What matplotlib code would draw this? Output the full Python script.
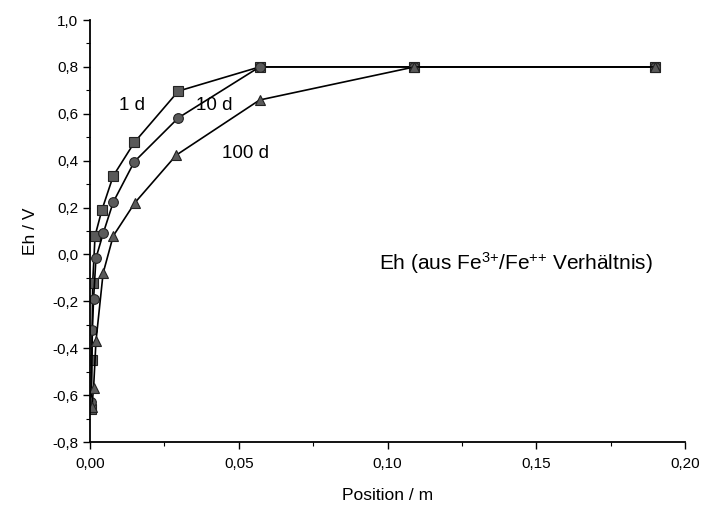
import numpy as np
import matplotlib
matplotlib.use("Agg")
import matplotlib.pyplot as plt
from matplotlib.ticker import MultipleLocator, FuncFormatter

plt.rcParams['font.family'] = ['Liberation Sans', 'DejaVu Sans']
plt.rcParams['mathtext.fontset'] = 'custom'
plt.rcParams['mathtext.rm'] = 'Liberation Sans'
plt.rcParams['mathtext.it'] = 'Liberation Sans:italic'

# data (position in m, Eh in V)
x_1d = [0.0003, 0.0006, 0.0009, 0.0017, 0.0040, 0.0078, 0.0149, 0.0297, 0.0570, 0.1090, 0.1900]
eh_1d = [-0.66, -0.45, -0.12, 0.08, 0.19, 0.335, 0.478, 0.697, 0.80, 0.80, 0.80]

x_10d = [0.0004, 0.0008, 0.0012, 0.0020, 0.0045, 0.0078, 0.0149, 0.0297, 0.0570, 0.1090, 0.1900]
eh_10d = [-0.63, -0.32, -0.19, -0.015, 0.093, 0.223, 0.396, 0.583, 0.80, 0.80, 0.80]

x_100d = [0.0006, 0.0012, 0.0020, 0.0044, 0.0078, 0.0151, 0.0290, 0.0570, 0.1090, 0.1900]
eh_100d = [-0.65, -0.57, -0.37, -0.08, 0.079, 0.221, 0.424, 0.659, 0.80, 0.80]

fig = plt.figure(figsize=(7.01, 5.14), dpi=100)
ax = fig.add_axes([0.1284, 0.140, 0.849, 0.821])

style = dict(color='black', lw=1.2, markersize=7, markerfacecolor='#5a5a5a',
             markeredgecolor='#222222', markeredgewidth=0.8)
ax.plot(x_1d, eh_1d, marker='s', **style)
ax.plot(x_10d, eh_10d, marker='o', **style)
ax.plot(x_100d, eh_100d, marker='^', **style)

ax.text(0.0141, 0.637, '1 d', fontsize=13.5, ha='center', va='center')
ax.text(0.0417, 0.637, '10 d', fontsize=13.5, ha='center', va='center')
ax.text(0.0522, 0.43, '100 d', fontsize=13.5, ha='center', va='center')
ax.text(0.1430, -0.035,
        r'Eh (aus Fe$^{\mathregular{3{+}}}$/Fe$^{\mathregular{{+}{+}}}$ Verhältnis)',
        fontsize=15, ha='center', va='center')

ax.set_xlim(0, 0.2)
ax.set_ylim(-0.8, 1.0)
ax.xaxis.set_major_locator(MultipleLocator(0.05))
ax.xaxis.set_minor_locator(MultipleLocator(0.025))
ax.yaxis.set_major_locator(MultipleLocator(0.2))
ax.yaxis.set_minor_locator(MultipleLocator(0.1))
ax.xaxis.set_major_formatter(FuncFormatter(lambda v, p: f"{v:.2f}".replace('.', ',')))
ax.yaxis.set_major_formatter(FuncFormatter(lambda v, p: f"{v:.1f}".replace('.', ',').replace('-0,0', '0,0')))

for side in ['top', 'right']:
    ax.spines[side].set_visible(False)
for side in ['left', 'bottom']:
    ax.spines[side].set_linewidth(1.3)
ax.tick_params(which='major', direction='out', length=5, width=1, labelsize=11)
ax.tick_params(which='minor', direction='out', length=3, width=0.8)
ax.tick_params(axis='x', which='major', pad=6)

ax.set_xlabel('Position / m', fontsize=12.5, labelpad=12)
ax.set_ylabel('Eh / V', fontsize=12.5, labelpad=10)

fig.savefig('out.png', dpi=100)
